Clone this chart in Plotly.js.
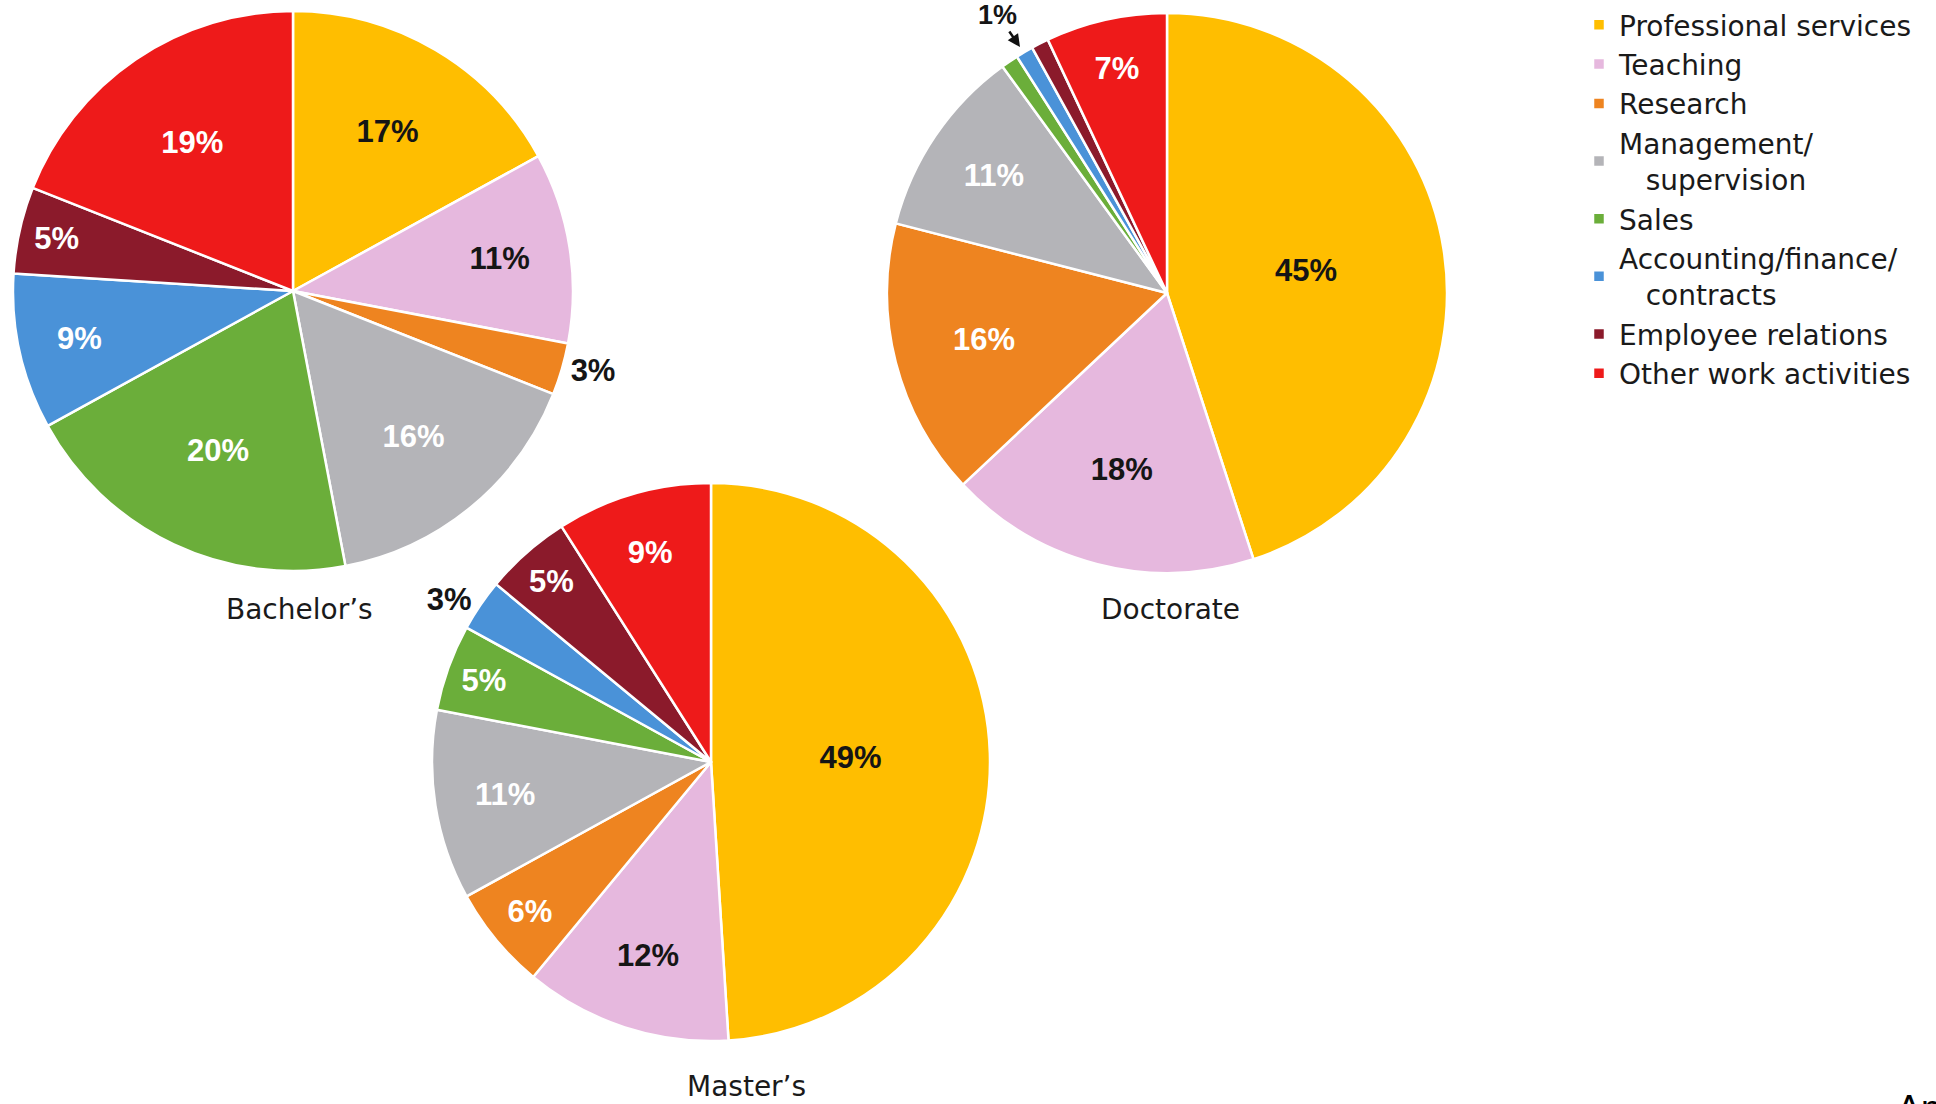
<!DOCTYPE html>
<html>
<head>
<meta charset="utf-8">
<script src="https://cdn.plot.ly/plotly-3.0.1.min.js"></script>
<style>
  html, body { margin: 0; padding: 0; background: #ffffff; }
  #chart { width: 1936px; height: 1104px; }
</style>
</head>
<body>
<div id="chart"></div>
<script>
// ---- Data ----
const categories = [
  "Professional services",
  "Teaching",
  "Research",
  "Management/<br>\u00a0\u00a0\u00a0supervision",
  "Sales",
  "Accounting/finance/<br>\u00a0\u00a0\u00a0contracts",
  "Employee relations",
  "Other work activities"
];
const bachelorsValues = [17, 11, 3, 16, 20, 9, 5, 19];
const mastersValues   = [49, 12, 6, 11, 5, 3, 5, 9];
const doctorateValues = [45, 18, 16, 11, 1, 1, 1, 7];
const pieTitles = ["Bachelor\u2019s", "Master\u2019s", "Doctorate"];
const smallSliceLabel = "1%";

// ---- Styles ----
const sliceColors = ["#FFBE00", "#E6B8DE", "#EE8420", "#B4B4B8", "#6BAE3A", "#4A92D8", "#8B1A2B", "#EE1A1A"];
const textColors  = ["#151515", "#151515", "#ffffff", "#ffffff", "#ffffff", "#ffffff", "#ffffff", "#ffffff"];
const LABEL_FONT = "Liberation Sans, Arial, Helvetica, sans-serif";
const TEXT_FONT = "DejaVu Sans, Verdana, sans-serif";
const W = 1936, H = 1104;

function domainFor(cx, cy, r) {
  return { x: [(cx - r) / W, (cx + r) / W], y: [1 - (cy + r) / H, 1 - (cy - r) / H] };
}

function pieTrace(values, dom, positions, showLegend) {
  return {
    type: "pie",
    labels: categories,
    values: values,
    sort: false,
    direction: "clockwise",
    rotation: 0,
    domain: dom,
    marker: { colors: sliceColors, line: { color: "#ffffff", width: 2.5 } },
    textinfo: "text",
    text: values.map(v => v + "%"),
    textposition: positions,
    insidetextorientation: "horizontal",
    textfont: { family: LABEL_FONT, size: 31, weight: 700,
      color: positions.map((p, i) => p === "outside" ? "#151515" : textColors[i]) },
    outsidetextfont: { family: LABEL_FONT, size: 31, color: "#151515", weight: 700 },
    showlegend: showLegend,
    hoverinfo: "label+percent"
  };
}

const inside = "inside";
const traces = [
  pieTrace(bachelorsValues, domainFor(293, 291, 280),
    [inside, inside, "outside", inside, inside, inside, inside, inside], true),
  pieTrace(mastersValues, domainFor(711, 762, 279),
    [inside, inside, inside, inside, inside, "outside", inside, inside], false),
  pieTrace(doctorateValues, domainFor(1167, 293, 280),
    [inside, inside, inside, inside, "none", "none", "none", inside], false)
];

const annotations = [
  { text: pieTitles[0], x: 299 / W, y: 1 - 609 / H },
  { text: pieTitles[1], x: 746 / W, y: 1 - 1086 / H },
  { text: pieTitles[2], x: 1170 / W, y: 1 - 609 / H }
].map(a => ({
  xref: "paper", yref: "paper", x: a.x, y: a.y, text: a.text, showarrow: false,
  xanchor: "center", yanchor: "middle",
  font: { family: TEXT_FONT, size: 28, color: "#1a1a1a" }
}));

annotations.push({
  xref: "paper", yref: "paper", x: 1020 / W, y: 1 - 47 / H,
  text: smallSliceLabel, showarrow: true, arrowhead: 2, arrowsize: 1, arrowwidth: 2.5,
  arrowcolor: "#111111", ax: -22, ay: -32, standoff: 0,
  font: { family: LABEL_FONT, size: 27, color: "#151515", weight: 700 }
});

annotations.push({
  xref: "paper", yref: "paper", x: 1895 / W, y: 1 - 1086 / H,
  text: "An", showarrow: false, xanchor: "left", yanchor: "top",
  font: { family: "Liberation Sans, Arial, sans-serif", size: 36, color: "#000000" }
});

const layout = {
  width: W, height: H,
  margin: { l: 0, r: 0, t: 0, b: 0 },
  paper_bgcolor: "#ffffff",
  plot_bgcolor: "#ffffff",
  showlegend: true,
  legend: {
    x: 1579 / W, y: 1, xanchor: "left", yanchor: "top",
    font: { family: TEXT_FONT, size: 28, color: "#1a1a1a" },
    bgcolor: "rgba(0,0,0,0)",
    traceorder: "normal",
    itemclick: false
  },
  uniformtext: { minsize: 31, mode: "show" },
  annotations: annotations
};

Plotly.newPlot("chart", traces, layout, { displayModeBar: false, staticPlot: true });
</script>
</body>
</html>
